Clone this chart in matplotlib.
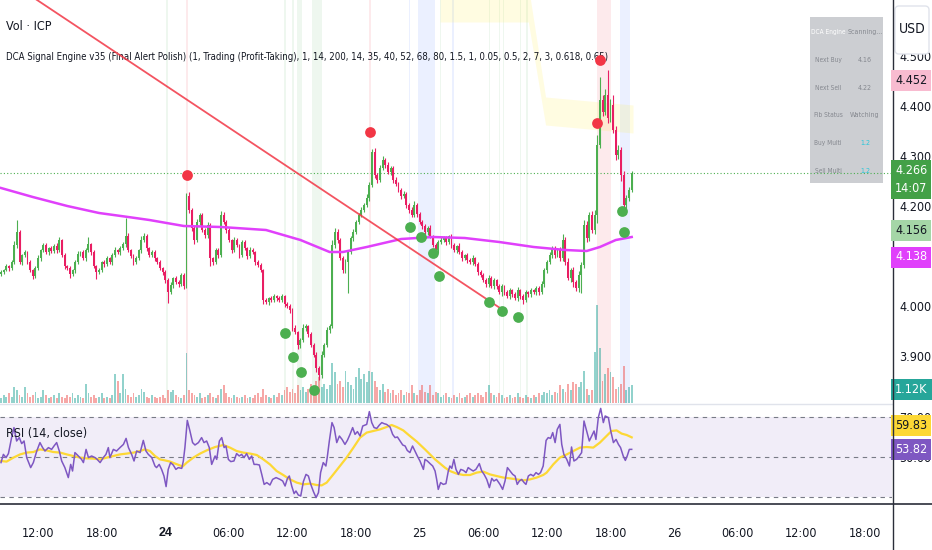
import os
import numpy as np
import pandas as pd
import matplotlib
matplotlib.use("Agg")
import matplotlib.pyplot as plt
from matplotlib import font_manager
from matplotlib.font_manager import FontProperties
from matplotlib.patches import Rectangle, FancyBboxPatch
import matplotlib.transforms as mtransforms

# --- шрифт: ищем узкое начертание, иначе обычный ---
FP = None
want = ['LiberationSansNarrow-Regular', 'NotoSans-Condensed.', 'NotoSans-Condensed-', 'DejaVuSansCondensed.',
        'RobotoCondensed-Regular', 'OpenSans_Condensed-Regular', 'OpenSans-CondensedRegular']
files = [f.fname for f in font_manager.fontManager.ttflist]
for w in want:
    hit = [p for p in files if w in os.path.basename(p)]
    if hit:
        FP = hit[0]
        break
FAMILY = ['Liberation Sans', 'DejaVu Sans']
plt.rcParams['font.family'] = FAMILY


def fp(size, weight='normal'):
    if FP and weight == 'normal':
        return FontProperties(fname=FP, size=size)
    return FontProperties(family=FAMILY, size=size, weight=weight)


# --- данные: свечи 15m, ICP ---
start_time = '2025-06-23 08:30'
open0 = 4.064
close = [
    4.068, 4.072, 4.080, 4.076, 4.088, 4.122, 4.148, 4.088, 4.102, 4.108,
    4.088, 4.072, 4.060, 4.076, 4.096, 4.112, 4.122, 4.108, 4.116, 4.110,
    4.120, 4.112, 4.132, 4.102, 4.080, 4.076, 4.064, 4.072, 4.088, 4.104,
    4.108, 4.096, 4.112, 4.124, 4.108, 4.080, 4.068, 4.072, 4.088, 4.084,
    4.096, 4.088, 4.102, 4.112, 4.108, 4.116, 4.124, 4.140, 4.112, 4.100,
    4.088, 4.096, 4.112, 4.132, 4.140, 4.116, 4.102, 4.108, 4.096, 4.088,
    4.076, 4.068, 4.052, 4.028, 4.042, 4.056, 4.048, 4.044, 4.062, 4.040,
    4.220, 4.192, 4.156, 4.132, 4.168, 4.182, 4.152, 4.142, 4.162, 4.096,
    4.088, 4.112, 4.102, 4.182, 4.168, 4.152, 4.132, 4.112, 4.132, 4.122,
    4.102, 4.128, 4.116, 4.100, 4.112, 4.108, 4.088, 4.082, 4.072, 4.012,
    4.008, 4.016, 4.012, 4.020, 4.016, 4.012, 4.020, 4.004, 4.000, 3.992,
    3.956, 3.948, 3.922, 3.932, 3.956, 3.960, 3.944, 3.922, 3.902, 3.876,
    3.862, 3.902, 3.922, 3.952, 3.960, 4.122, 4.148, 4.132, 4.096, 4.072,
    4.088, 4.108, 4.136, 4.148, 4.168, 4.182, 4.192, 4.202, 4.216, 4.242,
    4.308, 4.262, 4.252, 4.276, 4.292, 4.282, 4.268, 4.276, 4.252, 4.244,
    4.232, 4.220, 4.224, 4.202, 4.192, 4.182, 4.202, 4.184, 4.168, 4.160,
    4.148, 4.156, 4.140, 4.122, 4.112, 4.128, 4.132, 4.136, 4.128, 4.140,
    4.122, 4.112, 4.120, 4.108, 4.096, 4.102, 4.092, 4.088, 4.096, 4.084,
    4.068, 4.062, 4.052, 4.044, 4.056, 4.040, 4.052, 4.040, 4.028, 4.040,
    4.028, 4.020, 4.032, 4.024, 4.016, 4.032, 4.020, 4.012, 4.028, 4.024,
    4.032, 4.028, 4.036, 4.028, 4.044, 4.072, 4.088, 4.102, 4.116, 4.102,
    4.112, 4.096, 4.132, 4.088, 4.056, 4.072, 4.048, 4.036, 4.062, 4.082,
    4.162, 4.136, 4.182, 4.152, 4.182, 4.322, 4.412, 4.388, 4.422, 4.376,
    4.402, 4.352, 4.302, 4.312, 4.262, 4.202, 4.216, 4.232, 4.266,
]
# тени свечей, в тысячных долях
wick_up = [
    4, 3, 5, 2, 4, 8, 24, 5, 3, 4,
    3, 5, 2, 4, 6, 3, 5, 4, 3, 5,
    4, 6, 6, 3, 4, 2, 5, 3, 4, 6,
    3, 5, 4, 14, 3, 4, 2, 5, 3, 4,
    5, 3, 4, 6, 3, 5, 4, 36, 6, 3,
    4, 5, 3, 8, 6, 4, 3, 5, 4, 3,
    4, 3, 5, 4, 6, 3, 4, 5, 3, 4,
    6, 8, 4, 5, 6, 4, 3, 5, 6, 4,
    3, 5, 4, 8, 6, 4, 5, 3, 6, 4,
    3, 5, 4, 3, 6, 4, 3, 5, 4, 3,
    4, 3, 5, 4, 3, 4, 5, 3, 4, 5,
    4, 6, 3, 5, 8, 4, 3, 5, 4, 6,
    5, 8, 4, 6, 5, 10, 8, 6, 5, 4,
    6, 4, 5, 6, 4, 5, 6, 4, 8, 6,
    6, 8, 5, 6, 8, 4, 6, 5, 4, 6,
    4, 5, 6, 4, 5, 6, 8, 4, 5, 4,
    5, 4, 6, 3, 5, 4, 6, 4, 5, 3,
    4, 5, 3, 6, 4, 3, 5, 4, 6, 3,
    4, 5, 3, 4, 6, 4, 5, 3, 4, 5,
    3, 4, 5, 3, 4, 6, 3, 4, 5, 3,
    4, 3, 5, 4, 6, 5, 4, 6, 5, 4,
    5, 6, 12, 6, 8, 5, 6, 4, 8, 6,
    10, 8, 6, 8, 10, 20, 46, 10, 12, 50,
    12, 20, 8, 10, 6, 8, 6, 6, 4,
]
wick_dn = [
    3, 4, 2, 5, 3, 4, 6, 4, 5, 3,
    4, 3, 6, 4, 3, 5, 4, 3, 5, 4,
    3, 5, 4, 3, 6, 4, 8, 3, 5, 4,
    4, 3, 5, 4, 6, 3, 14, 4, 3, 5,
    3, 4, 5, 3, 4, 6, 3, 5, 4, 3,
    5, 4, 3, 5, 4, 6, 3, 4, 5, 4,
    4, 5, 6, 22, 4, 5, 3, 6, 4, 5,
    4, 5, 6, 8, 4, 5, 4, 6, 5, 16,
    6, 4, 5, 3, 4, 6, 4, 5, 3, 4,
    5, 3, 4, 6, 3, 4, 5, 4, 3, 8,
    4, 5, 3, 4, 6, 3, 4, 5, 4, 6,
    5, 4, 8, 6, 4, 5, 6, 4, 5, 8,
    10, 6, 5, 4, 6, 4, 5, 6, 4, 5,
    5, 62, 4, 5, 3, 4, 5, 3, 4, 5,
    4, 6, 5, 4, 3, 5, 4, 6, 5, 4,
    3, 5, 4, 6, 5, 4, 3, 5, 4, 6,
    4, 5, 3, 4, 6, 5, 4, 3, 5, 4,
    5, 4, 6, 3, 5, 4, 6, 4, 5, 4,
    6, 5, 4, 6, 5, 4, 6, 5, 4, 8,
    5, 4, 6, 5, 4, 6, 5, 8, 4, 5,
    6, 4, 5, 6, 4, 5, 6, 4, 5, 6,
    4, 6, 5, 6, 4, 8, 10, 6, 8, 36,
    6, 8, 5, 6, 8, 16, 6, 8, 6, 10,
    8, 6, 10, 8, 12, 10, 18, 6, 4,
]
volume_k = [
    0.3, 0.5, 0.4, 0.6, 0.4, 1.0, 0.8, 0.5, 0.4, 1.0,
    0.6, 0.4, 0.5, 0.7, 0.3, 0.4, 0.8, 0.5, 0.3, 0.4,
    0.5, 0.3, 0.6, 0.4, 0.3, 0.5, 0.4, 0.6, 0.3, 0.5,
    0.4, 0.3, 1.2, 0.6, 0.4, 0.5, 0.3, 0.4, 0.6, 0.3,
    0.4, 0.3, 0.5, 1.8, 1.4, 0.6, 1.8, 0.9, 0.5, 0.4,
    0.6, 0.4, 0.5, 0.9, 0.7, 0.4, 0.3, 0.5, 0.4, 0.3,
    0.4, 0.5, 0.3, 0.8, 0.7, 0.8, 0.5, 0.4, 0.3, 0.5,
    3.1, 0.8, 0.6, 0.5, 0.4, 0.6, 0.3, 0.4, 0.5, 0.6,
    0.4, 0.3, 0.5, 0.9, 1.1, 0.6, 0.4, 0.3, 0.5, 0.4,
    0.3, 0.4, 0.5, 0.3, 0.4, 0.3, 0.5, 0.6, 0.4, 0.9,
    0.5, 0.4, 0.3, 0.5, 0.4, 0.6, 0.5, 0.8, 1.0, 0.7,
    0.9, 0.6, 1.1, 0.8, 1.0, 0.7, 0.9, 1.2, 0.8, 1.4,
    1.6, 1.0, 1.2, 0.9, 1.1, 2.5, 1.9, 1.2, 1.4, 1.0,
    2.0, 1.3, 1.1, 0.9, 1.6, 2.2, 1.5, 1.8, 1.3, 2.0,
    1.9, 1.4, 1.0, 0.8, 1.2, 0.7, 0.9, 0.6, 0.8, 0.5,
    0.6, 0.8, 0.5, 0.7, 0.6, 1.1, 0.6, 0.5, 0.8, 1.1,
    0.7, 0.6, 1.1, 0.5, 0.7, 0.6, 0.4, 0.5, 0.6, 0.4,
    0.3, 0.5, 0.4, 0.6, 0.3, 0.4, 0.5, 0.6, 0.4, 0.5,
    0.6, 0.5, 0.4, 0.7, 1.1, 0.6, 0.5, 0.4, 0.6, 0.5,
    0.3, 0.4, 0.5, 0.3, 0.4, 0.6, 0.4, 0.3, 0.5, 0.4,
    0.3, 0.5, 0.4, 0.6, 0.5, 0.7, 0.6, 0.8, 0.5, 0.7,
    0.6, 1.1, 0.9, 0.7, 1.2, 0.8, 1.3, 1.2, 1.0, 1.3,
    2.0, 0.9, 0.5, 0.8, 3.2, 6.1, 3.4, 1.4, 1.8, 2.2,
    1.9, 1.6, 0.9, 1.0, 1.2, 2.3, 0.8, 1.0, 1.12,
]

# MA 200 (фиолетовая линия), вершины по индексу свечи
ma_idx = [0, 12, 25, 37, 48, 56, 69, 83, 100, 113, 124, 129, 138, 151, 163, 175, 188, 201, 213, 221, 226, 232, 238]
ma_val = [4.236, 4.218, 4.200, 4.186, 4.178, 4.172, 4.160, 4.158, 4.152, 4.132, 4.108, 4.108, 4.118,
          4.134, 4.138, 4.136, 4.128, 4.118, 4.112, 4.110, 4.118, 4.132, 4.138]

# RSI (14, close) — вершины линии
rsi_idx = [
    0, 0.9, 1.9, 2.8, 4.0, 4.9, 5.9, 6.9, 7.8, 8.7, 9.7, 11.2, 12.2, 13.5, 14.7, 15.7, 16.6, 17.9, 19.1, 20.0,
    21.0, 22.0, 22.9, 24.1, 25.4, 26.3, 27.0, 27.9, 29.2, 30.4, 31.1, 32.1, 33.0, 34.2, 35.5, 36.3, 37.4, 38.6,
    39.6, 40.5, 41.1, 42.4, 43.6, 44.9, 46.2, 47.2, 48.1, 49.3, 50.2, 51.2, 52.5, 53.7, 54.7, 55.6, 56.9, 58.1,
    58.7, 59.7, 60.6, 61.5, 62.3, 63.1, 64.0, 65.0, 66.0, 66.9, 68.2, 68.8, 69.4, 70.3, 71.3, 72.3, 73.2, 74.5,
    75.7, 76.6, 77.6, 78.6, 79.5, 80.8, 81.4, 82.4, 83.3, 84.2, 84.9, 85.8, 86.7, 87.9, 88.9, 89.9, 90.8, 91.7,
    92.7, 93.7, 94.6, 95.5, 96.5, 97.5, 98.4, 99.3, 100.3, 101.5, 102.5, 103.8, 105.3, 106.3, 107.2, 108.1,
    108.8, 109.7, 110.6, 111.3, 112.2, 113.1, 114.1, 115.1, 116.0, 116.9, 117.9, 118.9, 119.8, 120.6, 121.6,
    122.6, 123.1, 123.9, 124.9, 125.7, 126.7, 127.7, 128.7, 129.8, 130.7, 131.7, 132.7, 133.6, 134.5, 135.5,
    136.5, 137.4, 138.0, 139.0, 139.9, 140.8, 141.8, 142.8, 143.7, 144.5, 145.5, 146.8, 147.8, 148.7, 149.6,
    150.6, 151.6, 152.5, 153.3, 154.3, 155.3, 156.2, 157.1, 158.1, 159.4, 160.0, 160.9, 161.9, 162.9, 163.8,
    164.4, 165.0, 165.9, 166.9, 167.9, 168.8, 169.4, 170.1, 170.9, 171.7, 172.6, 173.5, 174.5, 175.5, 176.3,
    177.2, 178.2, 179.2, 180.5, 181.4, 182.3, 183.3, 184.3, 185.2, 186.0, 187.0, 188.3, 189.3, 190.2, 191.1,
    192.1, 193.1, 194.0, 194.8, 195.6, 196.5, 197.4, 198.1, 199.0, 199.9, 200.9, 201.9, 202.8, 203.6, 204.6,
    205.7, 206.5, 207.4, 208.2, 209.1, 209.9, 210.9, 211.6, 212.4, 213.5, 214.5, 215.3, 216.2, 217.2, 218.2,
    219.1, 220.0, 221.0, 222.0, 222.9, 223.8, 224.5, 225.4, 226.3, 227.3, 228.0, 229.2, 230.1, 231.1, 232.1,
    233.0, 233.8, 234.8, 235.6, 236.3, 237.1, 238.0,
]
rsi_val = [
    47.2, 51.3, 49.7, 51.7, 59.7, 64.7, 58.0, 59.7, 56.7, 58.0, 49.7, 44.7, 47.2, 53.0, 57.2, 54.7, 53.0, 54.7,
    53.8, 55.5, 57.2, 53.0, 48.0, 44.7, 39.7, 46.3, 43.0, 52.2, 50.5, 48.8, 47.2, 53.8, 49.7, 50.5, 49.7, 48.8,
    47.2, 49.7, 51.3, 54.7, 49.7, 53.8, 53.0, 54.7, 56.3, 59.3, 54.7, 51.3, 48.0, 53.0, 52.2, 58.3, 53.0, 51.3,
    49.7, 45.5, 44.7, 46.3, 43.8, 40.5, 35.2, 43.8, 47.2, 46.0, 43.8, 44.7, 44.3, 48.0, 54.7, 68.3, 63.0, 57.2,
    56.0, 57.2, 59.7, 57.2, 58.0, 54.7, 46.3, 50.5, 48.8, 58.0, 59.7, 54.7, 55.5, 48.8, 47.7, 48.0, 51.7, 50.5,
    51.3, 49.7, 51.7, 48.8, 50.5, 46.3, 46.3, 46.0, 41.3, 36.3, 37.2, 36.0, 38.8, 39.7, 38.8, 38.0, 35.5, 39.3,
    40.5, 35.5, 31.7, 33.0, 31.0, 30.5, 37.7, 41.3, 40.5, 36.3, 32.7, 29.7, 32.2, 42.2, 47.2, 45.5, 49.7, 58.0,
    67.2, 64.7, 57.2, 60.5, 58.8, 56.3, 58.3, 61.3, 64.7, 61.3, 62.7, 60.5, 65.5, 66.0, 66.3, 72.7, 67.2, 64.7,
    64.3, 66.0, 67.2, 66.7, 66.3, 65.0, 61.3, 59.7, 60.0, 58.0, 56.0, 55.5, 53.3, 52.2, 55.5, 53.0, 50.5, 48.0,
    43.8, 48.8, 48.0, 46.7, 45.5, 43.0, 38.8, 33.8, 37.2, 36.3, 36.7, 43.0, 45.5, 44.3, 48.8, 43.8, 41.3, 43.8,
    43.3, 42.2, 44.7, 43.8, 43.0, 43.8, 46.7, 43.0, 41.3, 38.8, 34.7, 39.3, 38.0, 38.8, 36.3, 33.8, 38.0, 44.7,
    43.0, 41.3, 40.5, 36.3, 38.0, 38.8, 37.2, 36.3, 40.5, 41.3, 40.5, 42.2, 41.3, 42.2, 45.5, 58.3, 59.7, 59.3,
    62.2, 57.2, 63.8, 66.3, 56.3, 51.3, 48.8, 45.5, 55.0, 48.0, 48.8, 50.5, 52.2, 68.0, 63.0, 58.0, 60.5, 63.0,
    58.8, 69.7, 74.3, 67.2, 70.5, 69.7, 63.0, 57.2, 58.8, 56.3, 54.7, 50.5, 48.3, 50.5, 53.8, 53.82,
]
# RSI-based MA (жёлтая линия)
rsima_idx = [
    0, 2.1, 4.7, 7.2, 9.7, 12.2, 14.7, 17.2, 19.7, 22.3, 24.8, 27.3, 29.8, 32.3, 34.8, 37.4, 39.9, 42.4, 44.9,
    47.4, 50.0, 52.5, 54.3, 56.2, 58.1, 60.0, 61.9, 63.8, 65.7, 67.5, 68.5, 70.1, 72.6, 75.1, 77.6, 80.8, 83.9,
    86.4, 88.9, 91.4, 94.0, 96.5, 99.0, 101.5, 104.0, 106.5, 109.1, 111.6, 114.1, 116.6, 119.1, 121.0, 122.9,
    125.4, 127.9, 130.4, 133.0, 135.5, 138.0, 140.5, 143.0, 145.5, 147.4, 149.3, 151.8, 154.3, 156.9, 160.0,
    161.9, 163.8, 165.7, 167.5, 169.4, 171.9, 174.5, 177.0, 179.5, 182.0, 184.5, 187.0, 189.6, 192.1, 194.6,
    197.1, 199.6, 202.1, 204.6, 205.9, 208.4, 210.9, 213.5, 216.0, 218.5, 221.0, 223.5, 226.0, 228.5, 230.4,
    232.3, 234.2, 236.1, 238.0,
]
rsima_val = [
    48.0, 47.7, 49.7, 51.3, 52.2, 52.5, 53.8, 53.3, 52.5, 52.2, 51.3, 50.5, 49.7, 49.3, 49.2, 48.8, 49.7, 50.5,
    51.3, 51.7, 52.2, 53.0, 53.8, 53.0, 50.5, 48.8, 48.3, 47.7, 46.7, 45.8, 45.2, 47.2, 49.7, 51.7, 53.3, 55.0,
    56.0, 54.7, 53.0, 52.2, 51.7, 51.0, 48.8, 46.3, 43.0, 41.0, 38.8, 37.2, 36.3, 36.7, 36.0, 35.8, 37.2, 41.3,
    45.5, 49.7, 54.7, 59.7, 62.2, 63.0, 63.8, 65.0, 66.0, 65.0, 63.3, 60.5, 57.7, 53.8, 51.3, 48.8, 46.7, 44.7,
    43.0, 41.7, 41.0, 41.0, 42.2, 42.7, 41.3, 40.5, 39.7, 39.3, 38.8, 38.3, 38.8, 39.7, 41.0, 42.2, 46.3, 49.7,
    51.3, 53.0, 54.7, 55.0, 54.7, 57.2, 60.5, 63.0, 63.3, 61.7, 61.0, 59.83,
]

buy_idx = [107.2, 110.2, 113.2, 118.1, 154.3, 158.5, 163.0, 165.3, 184.2, 189.0, 195.1, 234.3, 235.1]
buy_val = [3.946, 3.898, 3.868, 3.832, 4.158, 4.138, 4.106, 4.060, 4.008, 3.990, 3.978, 4.190, 4.148]
sell_idx = [70.2, 139.2, 224.9, 226.0]
sell_val = [4.262, 4.348, 4.366, 4.492]

trend_idx = [0, 188.3]
trend_val = [4.660, 3.996]

green_bands = [(62.2, 63.0), (106.8, 107.6), (109.8, 110.6), (111.7, 113.6), (117.4, 121.1),
               (165.5, 166.0), (184.0, 184.6), (187.8, 188.4), (189.3, 189.8), (195.8, 196.3), (198.3, 198.9)]
red_bands = [(70.0, 70.7), (139.0, 139.6), (224.9, 230.2)]
blue_bands = [(153.8, 154.4), (157.4, 163.8), (170.3, 170.8), (233.6, 237.2)]

fib_idx = [165.7, 199.0, 205.5, 238.5]
fib_top = [4.640, 4.640, 4.418, 4.402]
fib_bot = [4.568, 4.568, 4.362, 4.346]

last_price = 4.266
rsi_last, rsi_ma_last = 53.82, 59.83
price_ticks = [3.9, 4.0, 4.2, 4.3, 4.4, 4.5]

table_rows = [('DCA Engine', 'Scanning...'), ('Next Buy', '4.16'), ('Next Sell', '4.22'),
              ('Fib Status', 'Watching'), ('Buy Multi', '1.2'), ('Sell Multi', '1.2')]

title = ('DCA Signal Engine v35 (Final Alert Polish) (1, Trading (Profit-Taking), 1, 14, 200, 14, 35, '
         '40, 52, 68, 80, 1.5, 1, 0.05, 0.5, 2, 7, 3, 0.618, 0.65)')

# --- подготовка ---
n = len(close)
idx = np.arange(n)
c = np.array(close)
o = np.concatenate([[open0], c[:-1]])
hi = np.maximum(o, c) + np.array(wick_up) / 1000
lo = np.minimum(o, c) - np.array(wick_dn) / 1000
up = c >= o

times = pd.date_range(start_time, periods=400, freq='15min')

W, H = 932, 550
fig = plt.figure(figsize=(W / 100, H / 100), dpi=100)
fig.patch.set_facecolor('white')

AX_R = 892
ax = fig.add_axes([0, (H - 403) / H, AX_R / W, 403 / H])
axr = fig.add_axes([0, (H - 503) / H, AX_R / W, 100 / H])

xlim = ((0 - 1) / 2.65, (AX_R - 1) / 2.65)
for a in (ax, axr):
    a.set_xlim(*xlim)
    for sp in a.spines.values():
        sp.set_visible(False)
    a.tick_params(length=0)

ax.set_ylim(4.612 - 0.002 * 403, 4.612)

# фоновые полосы сигналов
for a0, a1 in green_bands:
    ax.axvspan(a0, a1, color='#4CAF50', alpha=0.09, lw=0, zorder=0)
for a0, a1 in red_bands:
    ax.axvspan(a0, a1, color='#F23645', alpha=0.10, lw=0, zorder=0)
for a0, a1 in blue_bands:
    ax.axvspan(a0, a1, color='#2962FF', alpha=0.09, lw=0, zorder=0)
ax.fill_between(fib_idx, fib_bot, fib_top, color='#FFEB3B', alpha=0.15, lw=0, zorder=0.5)

# объём
axv = ax.twinx()
axv.set_xlim(*xlim)
axv.set_ylim(0, 25.1)
axv.axis('off')
vcol = np.where(up, '#26A69A', '#EF5350')
axv.bar(idx, volume_k, width=0.7, color=vcol, alpha=0.5, lw=0, zorder=1)

# свечи и индикаторы поверх объёма
axp = fig.add_axes(ax.get_position(), sharex=ax, sharey=ax)
axp.patch.set_alpha(0)
axp.axis('off')
axp.set_zorder(axv.get_zorder() + 1)

ccol = np.where(up, '#4CAF50', '#E91E63')
axp.vlines(idx, lo, hi, colors=ccol, lw=0.8, zorder=2)
body = np.abs(c - o)
body = np.where(body < 0.002, 0.002, body)
axp.bar(idx, body, bottom=np.minimum(o, c), width=0.75, color=ccol, lw=0, zorder=3)

axp.plot(ma_idx, ma_val, color='#E040FB', lw=1.8, zorder=4)
axp.plot(trend_idx, trend_val, color='#F23645', lw=1.3, alpha=0.85, zorder=4)
axp.axhline(last_price, color='#4CAF50', lw=0.8, ls=(0, (1, 2)), zorder=1)
axp.scatter(buy_idx, buy_val, s=60, color='#4CAF50', zorder=5, lw=0)
axp.scatter(sell_idx, sell_val, s=60, color='#F23645', zorder=5, lw=0)

# ось цены справа
ax.yaxis.tick_right()
ax.set_yticks(price_ticks)
ax.set_yticklabels([f'{v:.3f}' for v in price_ticks])
ax.tick_params(axis='y', pad=5, colors='#131722')
ax.set_xticks([])


def tag(a, val, text, fc, tc, dy=0, va='center'):
    tr = mtransforms.blended_transform_factory(a.transAxes, a.transData)
    a.annotate(text, xy=(1, val), xycoords=tr, xytext=(3, dy), textcoords='offset pixels',
               ha='left', va=va, fontproperties=fp(9), color=tc, annotation_clip=False, zorder=10,
               linespacing=1.5, bbox=dict(boxstyle='square,pad=0.32', fc=fc, ec='none'))


tag(axp, 4.452, '4.452', '#F8BBD0', '#131722')
tag(axp, last_price, '4.266\n14:07', '#43A047', 'white', dy=9, va='top')
tag(axp, 4.156, '4.156', '#A5D6A7', '#131722', dy=-2)
tag(axp, ma_val[-1], f'{ma_val[-1]:.3f}', '#E040FB', 'white', dy=-20)
tag(axv, volume_k[-1], '1.12K', '#26A69A', 'white', dy=-4)

# RSI
axr.set_ylim(27, 77)
axr.axhspan(30, 70, color='#7E57C2', alpha=0.1, lw=0)
for lvl in (30, 50, 70):
    axr.axhline(lvl, color='#787B86', lw=0.8, ls=(0, (4, 4)))
axr.plot(rsi_idx, rsi_val, color='#7E57C2', lw=1.1, zorder=3)
axr.plot(rsima_idx, rsima_val, color='#FDD835', lw=1.6, zorder=2)
axr.yaxis.tick_right()
axr.set_yticks([50, 70])
axr.set_yticklabels(['50.00', '70.00'])
axr.tick_params(axis='y', pad=5, colors='#131722')
tag(axr, rsi_ma_last, f'{rsi_ma_last:.2f}', '#FDD835', '#131722', dy=12)
tag(axr, rsi_last, f'{rsi_last:.2f}', '#7E57C2', 'white')

# ось времени
tick_pos, tick_lab = [], []
for k, t in enumerate(times):
    if t.minute == 0 and t.hour % 6 == 0 and k <= xlim[1]:
        tick_pos.append(k)
        tick_lab.append(str(t.day) if t.hour == 0 else t.strftime('%H:%M'))
axr.set_xticks(tick_pos)
axr.set_xticklabels(tick_lab)
axr.tick_params(axis='x', pad=17, colors='#131722')

# наложение: подписи, таблица, разделители
ov = fig.add_axes([0, 0, 1, 1])
ov.set_xlim(0, W)
ov.set_ylim(H, 0)
ov.axis('off')
ov.patch.set_alpha(0)
ov.plot([0, AX_R], [403.5, 403.5], color='#E0E3EB', lw=1)
ov.plot([0, W], [503.5, 503.5], color='#2A2E39', lw=1.2)
ov.plot([AX_R + 0.5, AX_R + 0.5], [0, H], color='#2A2E39', lw=1)
ov.add_patch(FancyBboxPatch((895, 6), 34, 48, boxstyle='round,pad=0,rounding_size=4',
                            fc='white', ec='#E0E3EB', lw=1))
ov.text(912, 29, 'USD', ha='center', va='center', fontproperties=fp(10), color='#131722')

ov.text(6, 27, 'Vol · ICP', ha='left', va='center', fontproperties=fp(9), color='#131722')
t_title = ov.text(6, 57, title, ha='left', va='center', fontproperties=fp(11), color='#131722')
ov.text(6, 433, 'RSI (14, close)', ha='left', va='center', fontproperties=fp(9), color='#131722')

ov.add_patch(Rectangle((810, 17), 73, 166, fc='#C4C6CA', ec='none', alpha=0.85))
t_left, t_right = [], []
for r, (k, v) in enumerate(table_rows):
    yy = 32 + r * 27.8
    kc = 'white' if r == 0 else '#85888F'
    vc = '#26C6DA' if r >= 4 else '#85888F'
    t_left.append(ov.text(828, yy, k, ha='center', va='center', fontproperties=fp(7), color=kc))
    t_right.append(ov.text(865, yy, v, ha='center', va='center', fontproperties=fp(7), color=vc))

# шрифты подписей осей; "24" — жирным
fig.canvas.draw()
for a in (ax, axr):
    for lab in a.get_yticklabels():
        lab.set_fontproperties(fp(9))
for tick in axr.xaxis.get_major_ticks():
    lab = tick.label1
    lab.set_fontproperties(fp(9, 'bold' if lab.get_text() == '24' else 'normal'))

# подгоняем ширину заголовка и ячеек таблицы под скриншот
wpx = t_title.get_window_extent().width
t_title.set_fontproperties(fp(11 * 604 / wpx))
for col in (t_left, t_right):
    wmax = max(t.get_window_extent().width for t in col)
    size = min(7, 7 * 35 / wmax)
    for t in col:
        t.set_fontproperties(fp(size))

fig.savefig('out.png', dpi=100)
